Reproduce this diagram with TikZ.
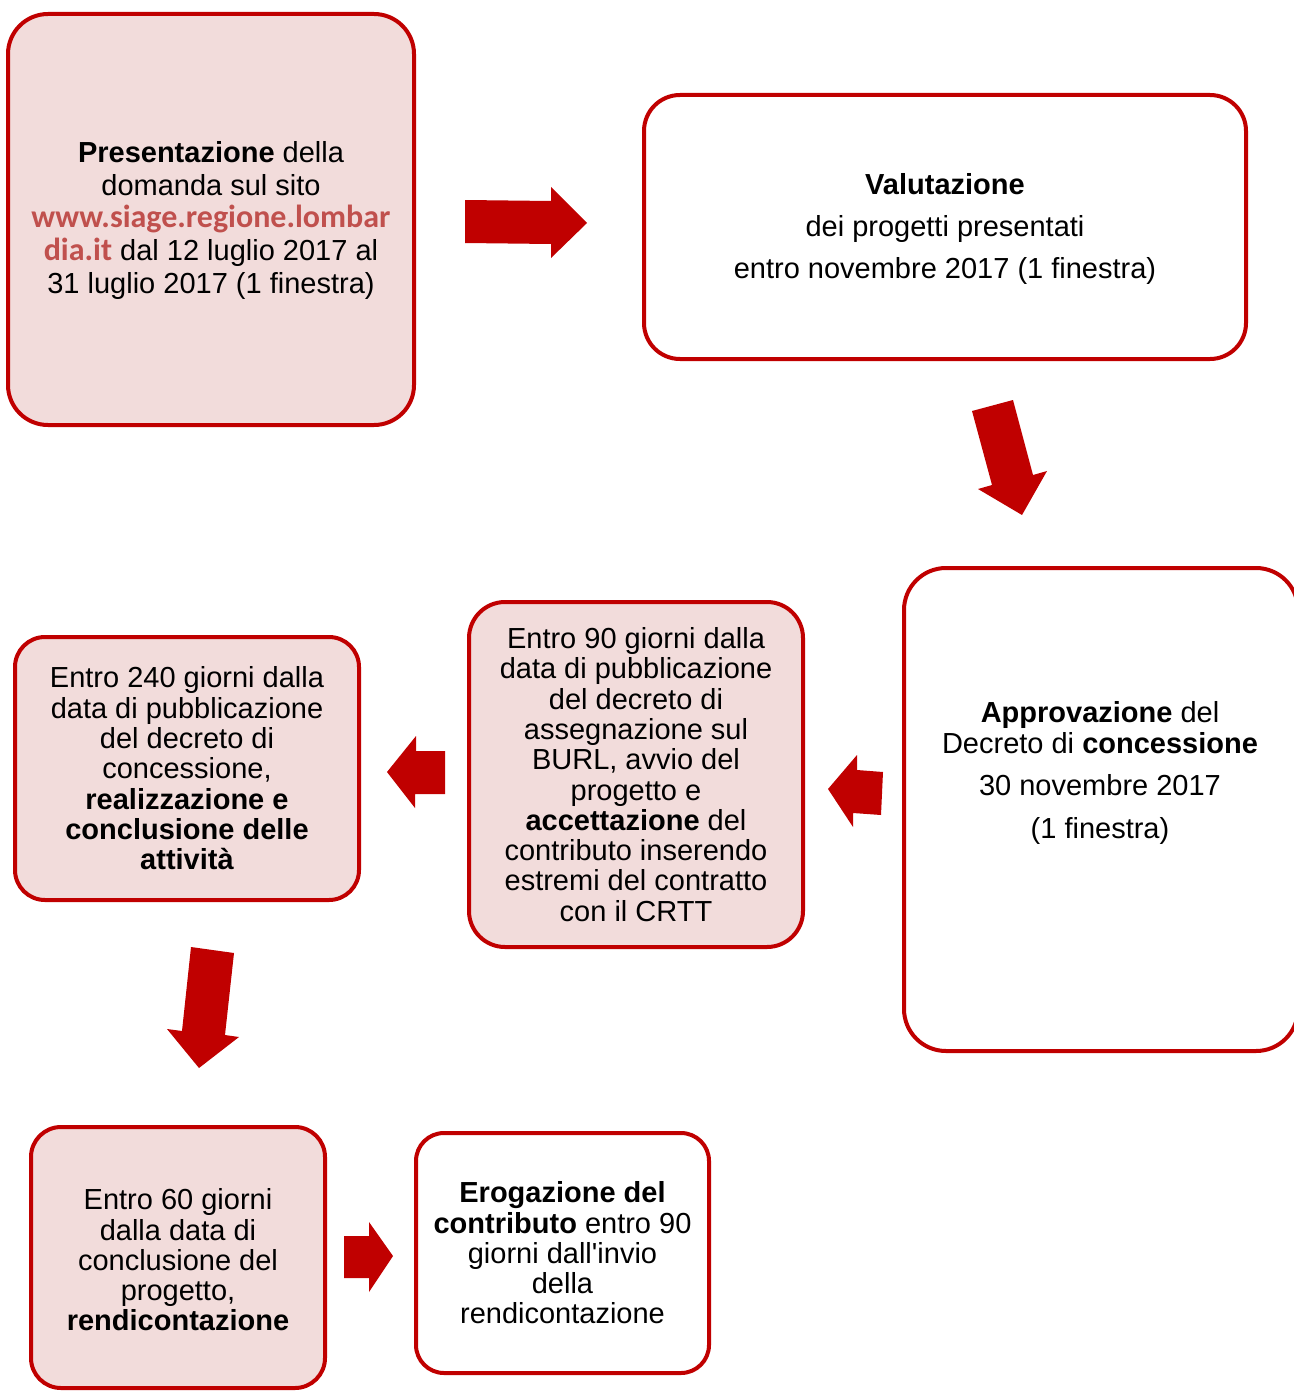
\documentclass[tikz,border=0pt]{standalone}
\usepackage{fontspec}
\setmainfont{Liberation Sans}
\newfontfamily\linkfont{Carlito}
\definecolor{bord}{HTML}{C00000}
\definecolor{pinkf}{HTML}{F2DCDB}
\definecolor{linkc}{HTML}{C0504D}
\newcommand{\straightq}{\XeTeXglyph\XeTeXcharglyph"0027\relax}
\begin{document}
\begin{tikzpicture}[x=1pt,y=-1pt,
  box/.style={draw=bord, line width=4pt, rounded corners=#1, inner sep=0pt, align=center,
    font=\fontsize{29}{30.3}\selectfont},
  box/.default=32pt,
  pbox/.style={box=#1, fill=pinkf}, pbox/.default=32pt,
  wbox/.style={box=#1, fill=white}, wbox/.default=32pt,
  txt/.style={inner sep=0pt, align=center, font=\fontsize{29}{30.3}\selectfont},
  barrow/.style={fill=bord, draw=none}]
\useasboundingbox (0,0) rectangle (1293,1391);

% boxes
\node[pbox=40pt, minimum width=406pt, minimum height=411pt] (b1) at (211,219.5) {};
\node[txt, font=\fontsize{29}{32.8}\selectfont] (b1t) at (211,220.5)
  {\textbf{Presentazione} della\\
   domanda sul sito\\
   {\linkfont\fontsize{32}{32.8}\selectfont\bfseries\color{linkc}www.siage.regione.lombar}\\
   {\linkfont\fontsize{32}{32.8}\selectfont\bfseries\color{linkc}dia.it} dal 12 luglio 2017 al\\
   31 luglio 2017 (1 finestra)};

\node[wbox=36pt, minimum width=602pt, minimum height=264pt] (b2) at (945,227) {};
\node[txt] (b2t) at (945,229)
  {\textbf{Valutazione}\\[11.7pt]
   dei progetti presentati\\[11.7pt]
   entro novembre 2017 (1 finestra)};

\node[wbox=42pt, minimum width=394pt, minimum height=483pt] (b3) at (1101,809.5) {};
\node[txt] (b3t) at (1100,773)
  {\textbf{Approvazione} del\\
   Decreto di \textbf{concessione}\\[11.7pt]
   30 novembre 2017\\[12.7pt]
   (1 finestra)};

\node[pbox=36pt, minimum width=334pt, minimum height=345pt] (b4) at (636,774.5)
  {Entro 90 giorni dalla\\
   data di pubblicazione\\
   del decreto di\\
   assegnazione sul\\
   BURL, avvio del\\
   progetto e\\
   \textbf{accettazione} del\\
   contributo inserendo\\
   estremi del contratto\\
   con il CRTT};

\node[pbox=30pt, minimum width=344pt, minimum height=263pt] (b5) at (187,768.5)
  {Entro 240 giorni dalla\\
   data di pubblicazione\\
   del decreto di\\
   concessione,\\
   \textbf{realizzazione e}\\
   \textbf{conclusione delle}\\
   \textbf{attività}};

\node[pbox=30pt, minimum width=294pt, minimum height=261pt] (b6) at (178,1257.5) {};
\node[txt] (b6t) at (178,1260)
  {Entro 60 giorni\\
   dalla data di\\
   conclusione del\\
   progetto,\\
   \textbf{rendicontazione}};

\node[wbox=28pt, minimum width=293pt, minimum height=240pt] (b7) at (562.5,1253)
  {\textbf{Erogazione del}\\
   \textbf{contributo} entro 90\\
   giorni dall\straightq invio\\
   della\\
   rendicontazione};

% block arrows
\fill[barrow] (465,200) -- (551,201) -- (551,187) -- (587,223) -- (551,258) -- (551,244) -- (465,243) -- cycle;
\fill[barrow] (972,411) -- (1013,400) -- (1033,475) -- (1047,471) -- (1022,515) -- (978,489) -- (992,485) -- cycle;
\fill[barrow] (828,789) -- (857,755) -- (857,770) -- (883,772) -- (881,815) -- (853,813) -- (853,827) -- cycle;
\fill[barrow] (387,772) -- (416,736) -- (416,751) -- (445,751) -- (445,794) -- (415,794) -- (415,808) -- cycle;
\fill[barrow] (191,947) -- (234,953) -- (225,1035) -- (239,1037) -- (199,1068) -- (167,1029) -- (182,1031) -- cycle;
\fill[barrow] (344,1236) -- (369,1236) -- (369,1222) -- (393,1256) -- (369,1292) -- (369,1278) -- (344,1278) -- cycle;
\end{tikzpicture}
\end{document}
